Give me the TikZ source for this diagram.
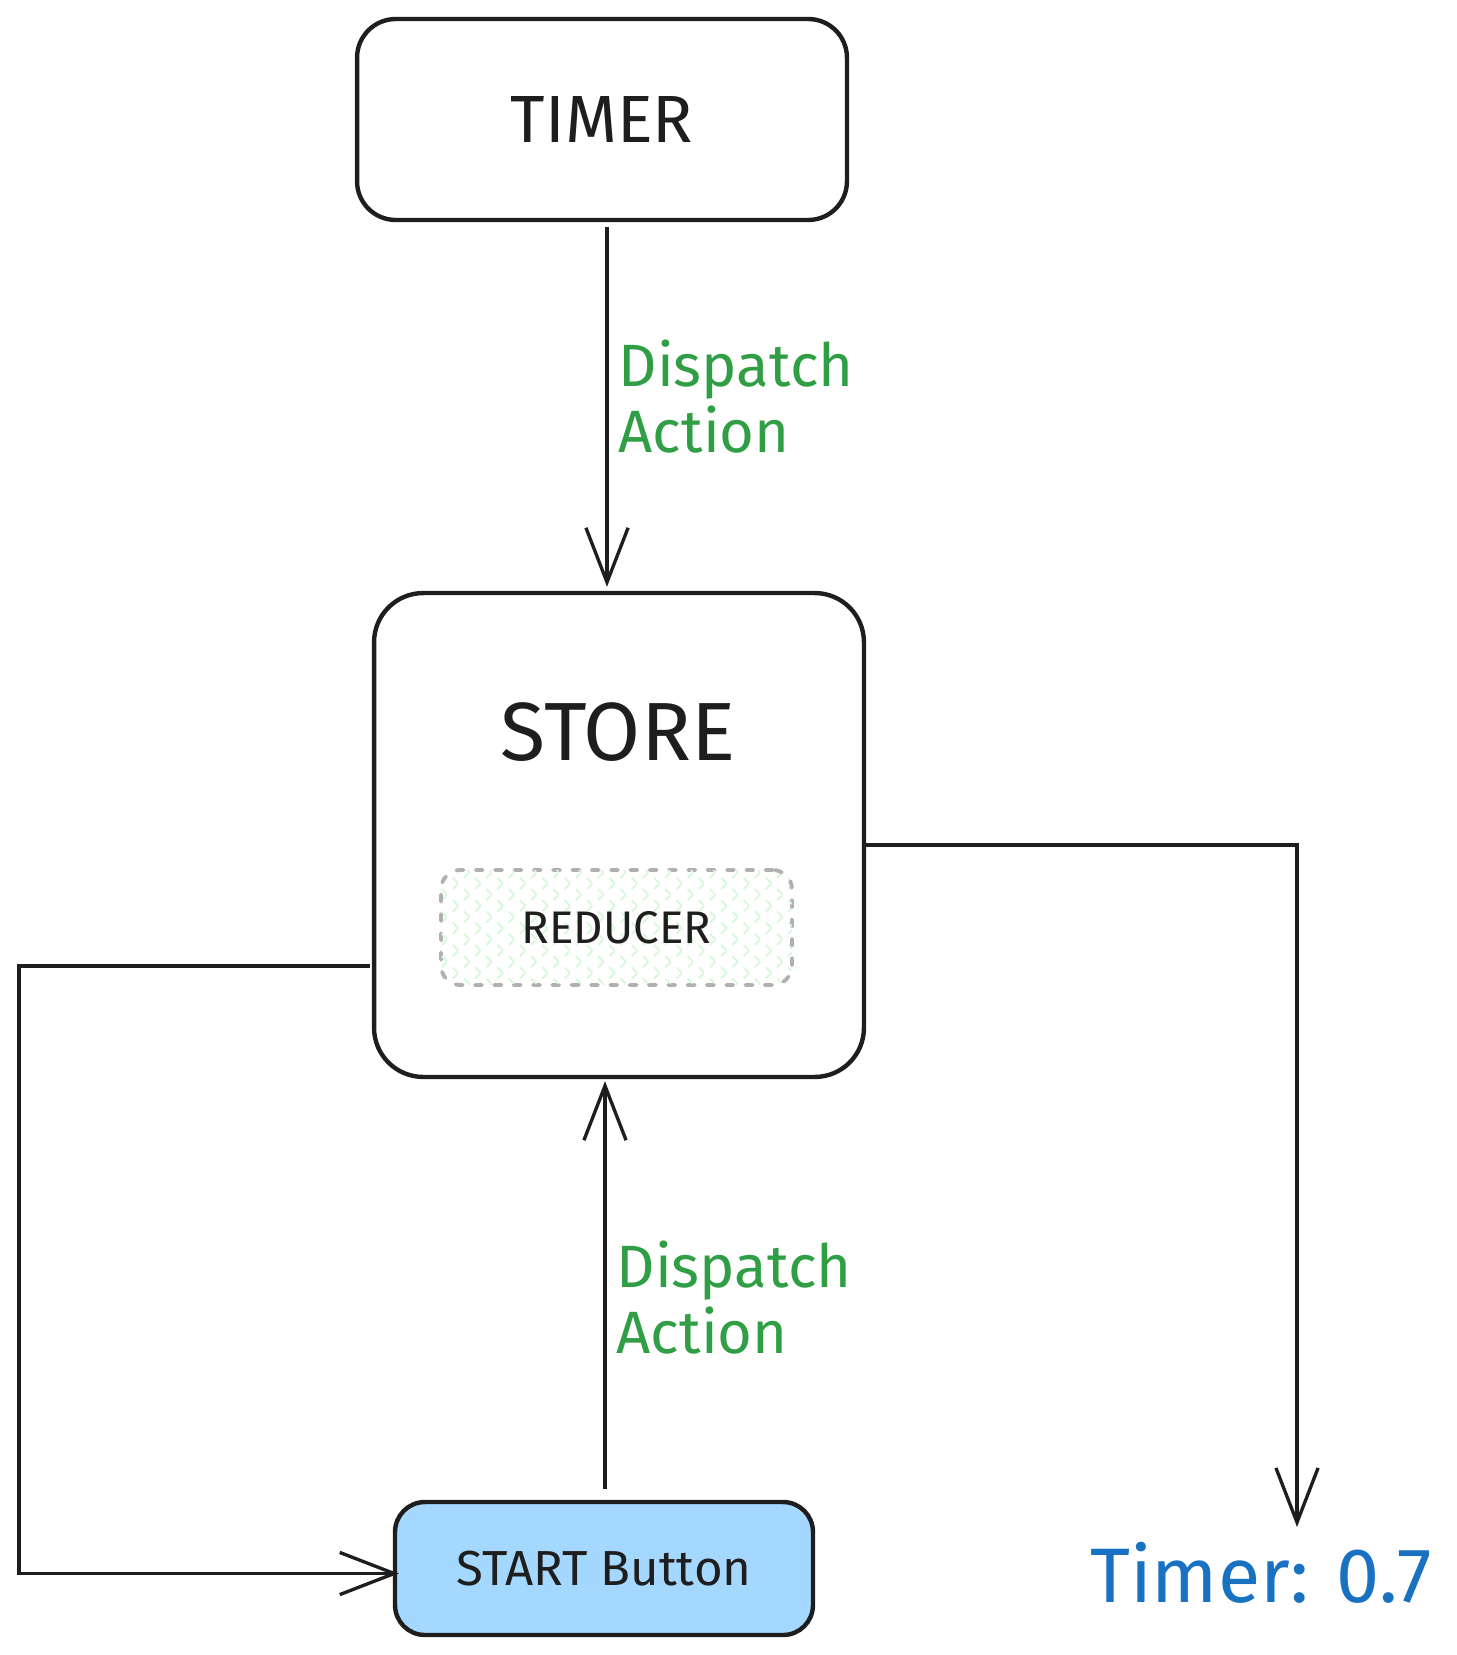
\documentclass[tikz,border=0pt]{standalone}
\usepackage{fontspec}
\setmainfont{Fira Sans}
\usepackage{xcolor}
\usetikzlibrary{calc,arrows.meta,patterns.meta}

\definecolor{inkgray}{HTML}{1E1E1E}
\definecolor{actiongreen}{HTML}{2F9E44}
\definecolor{valueblue}{HTML}{1971C2}
\definecolor{buttonblue}{HTML}{A5D8FF}
\definecolor{hatchgreen}{HTML}{D3F9D8}
\definecolor{dashgray}{HTML}{B0B0B0}

\tikzset{
  block/.style={draw=inkgray, line width=2.5pt, rounded corners=#1, inner sep=0pt, text=inkgray},
  reducerbox/.style={draw=dashgray, line width=2.2pt, dash pattern=on 4pt off 7pt, line cap=round,
    rounded corners=11pt, pattern={Lines[angle=45,distance=9pt,line width=1pt]}, pattern color=hatchgreen,
    postaction={pattern={Lines[angle=-45,distance=9pt,line width=1pt]}, pattern color=hatchgreen}},
  conn/.style={draw=inkgray, line width=1.9pt, -{Straight Barb[length=31pt,width=24pt,line width=1.9pt]}},
  action/.style={text=actiongreen, align=left, inner sep=0pt, anchor=west, xshift=0.2cm,
    font=\fontsize{34}{37.5}\selectfont}
}

\begin{document}
\begin{tikzpicture}[x=0.02cm,y=0.02cm]
  \useasboundingbox (0,0) rectangle (1456,-1655);

  % Boxes
  \node[block=22pt, minimum width=9.8cm, minimum height=4.02cm, font=\fontsize{38}{42}\selectfont] (timer) at (602,-119.5) {TIMER};
  \node[block=28pt, minimum width=9.8cm, minimum height=9.68cm] (store) at (619,-835) {};
  \node[text=inkgray, font=\fontsize{47}{52}\selectfont] (storetitle) at (618,-732) {STORE};
  \node[reducerbox, minimum width=7.02cm, minimum height=2.3cm, text=inkgray, font=\fontsize{26}{30}\selectfont] (reducer) at (616.5,-927.5) {REDUCER};
  \node[block=17pt, fill=buttonblue, minimum width=8.36cm, minimum height=2.66cm, font=\fontsize{28}{32}\selectfont] (start) at (604,-1568.5) {START Button};
  \node[text=valueblue, font=\fontsize{44}{50}\selectfont] (timerval) at (1261,-1573) {Timer: 0.7};

  \coordinate (valtip) at (1297,-1527); % end of the output arrow

  % Connectors
  \draw[conn] ($(timer.south)+(5,-5)$) -- ($(timer.south |- store.north)+(5,4)$)
    node[action, pos=0.47] (dispatchtop) {Dispatch\\Action};
  \draw[conn] ($(start.north)+(1,11)$) -- ($(start.north |- store.south)+(1,-2)$)
    node[action, pos=0.47] (dispatchbottom) {Dispatch\\Action};
  \draw[conn] ($(store.east)+(0,-10)$) -| (valtip);
  \draw[conn] ($(store.west)+(-2,-131)$) -- ++(-351,0) |- ($(start.west)+(6,-5)$);

\end{tikzpicture}
\end{document}
